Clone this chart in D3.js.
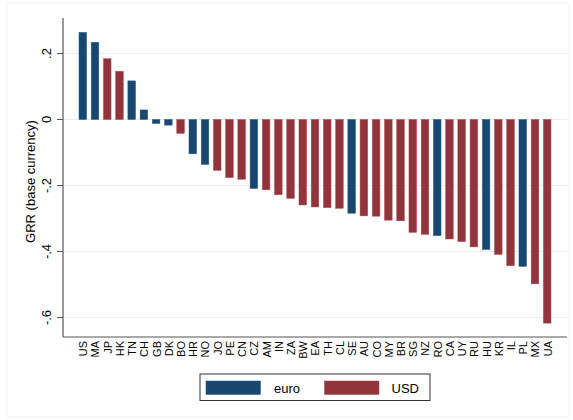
<!DOCTYPE html>
<html>
<head>
<meta charset="utf-8">
<script src="https://cdn.jsdelivr.net/npm/d3@7"></script>
<style>
  html, body { margin: 0; padding: 0; background: #fff; }
  svg { display: block; font-family: "Liberation Sans", Arial, sans-serif; }
</style>
</head>
<body>
<svg id="chart" width="573" height="420"></svg>
<script>
const countries = ["US","MA","JP","HK","TN","CH","GB","DK","BO","HR","NO","JO","PE","CN","CZ","AM","IN","ZA","BW","EA","TH","CL","SE","AU","CO","MY","BR","SG","NZ","RO","CA","UY","RU","HU","KR","IL","PL","MX","UA"];
const grr = [0.264,0.234,0.184,0.146,0.117,0.029,-0.012,-0.017,-0.042,-0.104,-0.136,-0.154,-0.176,-0.181,-0.209,-0.213,-0.228,-0.239,-0.259,-0.265,-0.267,-0.269,-0.284,-0.292,-0.293,-0.305,-0.307,-0.342,-0.348,-0.352,-0.362,-0.370,-0.386,-0.394,-0.409,-0.443,-0.445,-0.498,-0.617];
const currency = ["euro","euro","USD","USD","euro","euro","euro","euro","USD","euro","euro","USD","USD","USD","euro","USD","USD","USD","USD","USD","USD","USD","euro","USD","USD","USD","USD","USD","USD","euro","USD","USD","USD","euro","USD","USD","euro","USD","USD"];
const seriesNames = ["euro","USD"];
const yTicks = [0.2, 0, -0.2, -0.4, -0.6];
const yTickLabels = [".2", "0", "-.2", "-.4", "-.6"];

const colors = { euro: "#1a476f", USD: "#90353b" };
const svg = d3.select("#chart");

// outer frame
svg.append("rect").attr("x", 7).attr("y", 3).attr("width", 562).attr("height", 414)
  .attr("fill", "#fff").attr("stroke", "#f0f3f5").attr("stroke-width", 1);

const plot = { left: 63, right: 567, top: 18, bottom: 337 };

const x = d3.scalePoint().domain(countries).range([plot.left, plot.right]).padding(1.62);
const y = d3.scaleLinear().domain([0.2, -0.6]).range([53.5, 317.5]);

// gridlines
svg.append("g").selectAll("line").data(yTicks).join("line")
  .attr("x1", plot.left).attr("x2", plot.right)
  .attr("y1", d => y(d)).attr("y2", d => y(d))
  .attr("stroke", "#e6eeef").attr("stroke-width", 1);

// bars
const bw = x.step() * 0.62;
svg.append("g").selectAll("rect").data(countries).join("rect")
  .attr("x", d => x(d) - bw / 2)
  .attr("width", bw)
  .attr("y", (d, i) => Math.min(y(grr[i]), y(0)))
  .attr("height", (d, i) => Math.abs(y(grr[i]) - y(0)))
  .attr("fill", (d, i) => colors[currency[i]])
  .attr("stroke", (d, i) => d3.color(colors[currency[i]]).brighter(0.6))
  .attr("stroke-width", 0.5);

// y axis
const yAxis = d3.axisLeft(y).tickValues(yTicks).tickSize(6)
  .tickFormat((d, i) => yTickLabels[i]);
const gy = svg.append("g").attr("transform", `translate(${plot.left},0)`).call(yAxis);
gy.select(".domain").remove();
gy.append("line").attr("x1", 0).attr("x2", 0).attr("y1", plot.top).attr("y2", plot.bottom)
  .attr("stroke", "#555").attr("stroke-width", 1.2);
gy.selectAll(".tick line").attr("stroke", "#555");
gy.selectAll(".tick text")
  .attr("font-size", 13).attr("fill", "#000")
  .attr("text-anchor", "middle")
  .attr("transform", "rotate(-90)")
  .attr("x", d => -y(d))
  .attr("y", -12)
  .attr("dy", "0")
  .attr("dominant-baseline", "auto");
gy.selectAll(".tick").attr("transform", null);
gy.selectAll(".tick line").attr("y1", d => y(d)).attr("y2", d => y(d));

// x axis
const xAxis = d3.axisBottom(x).tickSize(0);
const gx = svg.append("g").attr("transform", `translate(0,${plot.bottom})`).call(xAxis);
gx.select(".domain").remove();
gx.append("line").attr("x1", plot.left).attr("x2", plot.right).attr("y1", 0).attr("y2", 0)
  .attr("stroke", "#555").attr("stroke-width", 1.2);
gx.selectAll(".tick text")
  .attr("font-size", 11).attr("fill", "#000")
  .attr("text-anchor", "end")
  .attr("transform", "rotate(-90)")
  .attr("x", -4).attr("y", 0).attr("dy", "0.36em");

// y title
svg.append("text")
  .attr("transform", `translate(35,${(plot.top + plot.bottom) / 2 + 4}) rotate(-90)`)
  .attr("text-anchor", "middle")
  .attr("font-size", 13)
  .text("GRR (base currency)");

// legend
const lg = svg.append("g");
lg.append("rect").attr("x", 200).attr("y", 374).attr("width", 230).attr("height", 26.5)
  .attr("fill", "#fff").attr("stroke", "#333").attr("stroke-width", 1);
const items = [
  { name: seriesNames[0], sx: 206, tx: 274 },
  { name: seriesNames[1], sx: 324.5, tx: 391.5 }
];
items.forEach(it => {
  lg.append("rect").attr("x", it.sx).attr("y", 381).attr("width", 54.5).attr("height", 13.5)
    .attr("fill", colors[it.name]).attr("stroke", d3.color(colors[it.name]).brighter(0.6)).attr("stroke-width", 0.5);
  lg.append("text").attr("x", it.tx).attr("y", 392.5).attr("font-size", 13).text(it.name);
});
</script>
</body>
</html>
